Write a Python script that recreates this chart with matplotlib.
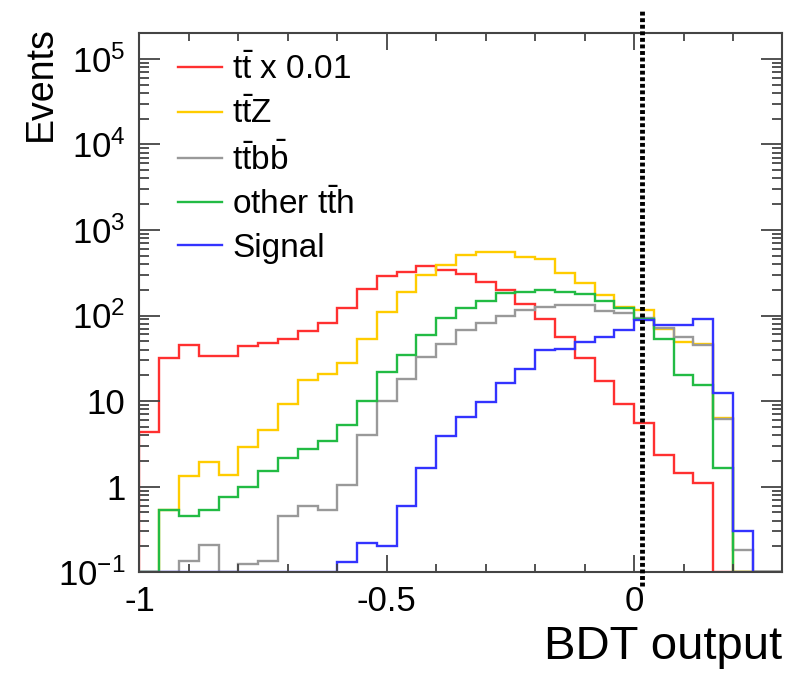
import numpy as np
import matplotlib
matplotlib.use("Agg")
import matplotlib.pyplot as plt
from matplotlib.lines import Line2D
from matplotlib.ticker import MultipleLocator, LogLocator, NullFormatter

plt.rcParams['font.family'] = ['Liberation Sans', 'DejaVu Sans']
plt.rcParams['mathtext.fontset'] = 'custom'
plt.rcParams['mathtext.rm'] = 'Liberation Sans'
plt.rcParams['mathtext.it'] = 'Liberation Sans:italic'

# 33 bins of width 0.04 starting at -1 (last one runs past the axis end)
bin_edges = np.linspace(-1.0, 0.32, 34)

ttbar = [4.3, 32, 45, 34, 34, 44, 48, 53, 66, 81, 121, 202, 287, 325, 383, 338,
         302, 245, 196, 136, 92, 56, 32, 17, 9.3, 5.6, 2.35, 1.45, 1.09, 0, 0, 0, 0]
ttz = [0, 0.53, 1.33, 1.95, 1.36, 2.9, 4.6, 9.2, 17.6, 20.5, 28, 53, 110, 190, 298, 390,
       510, 550, 550, 488, 453, 315, 237, 175, 127, 115, 70, 49, 47, 6.3, 0, 0, 0]
ttbb = [0, 0, 0.135, 0.21, 0, 0.125, 0.135, 0.45, 0.59, 0.53, 1.04, 4.0, 9.9, 18, 32.5, 46,
        68, 82, 99, 116, 125, 134, 133, 114, 108, 93, 71, 56, 45, 6.1, 0.18, 0, 0]
other_tth = [0, 0.53, 0.46, 0.54, 0.75, 0.98, 1.53, 2.14, 2.75, 3.45, 5.3, 10, 22, 34.5, 59, 93,
             121, 149, 182, 190, 199, 190, 180, 149, 121, 90, 53, 20, 15.4, 1.63, 0, 0, 0]
signal = [0, 0, 0, 0, 0, 0, 0, 0, 0, 0, 0.13, 0.22, 0.20, 0.60, 1.63, 3.9,
          6.5, 9.8, 16.4, 23.5, 39.5, 40.5, 49, 56, 68, 88, 77, 77, 91, 12.3, 0.30, 0, 0]

labels = [r'$\mathrm{t\bar{t}}$ x 0.01', r'$\mathrm{t\bar{t}Z}$', r'$\mathrm{t\bar{t}b\bar{b}}$',
          r'other $\mathrm{t\bar{t}h}$', 'Signal']
colors = ['#ff3030', '#ffcc00', '#999999', '#22bb44', '#3333ff']
bdt_cut = 0.015

YMIN, YMAX = 0.1, 2e5

fig = plt.figure(figsize=(7.88, 6.74), dpi=100)
ax = fig.add_axes([0.177, 0.151, 0.816, 0.80])

for vals, c in zip([ttbar, ttz, ttbb, other_tth, signal], colors):
    ax.stairs(np.maximum(vals, YMIN), bin_edges, baseline=YMIN, color=c, lw=1.7)

# cut line, sticks out of the frame a little
ax.plot([bdt_cut, bdt_cut], [-0.025, 1.04], transform=ax.get_xaxis_transform(),
        color='black', lw=3.5, ls=(0, (0.8, 0.55)), clip_on=False, zorder=5)

ax.set_yscale('log')
ax.set_xlim(-1, 0.3)
ax.set_ylim(YMIN, YMAX)

ax.set_xticks([-1, -0.5, 0])
ax.set_xticklabels(['-1', '-0.5', '0'])
ax.xaxis.set_minor_locator(MultipleLocator(0.1))
ax.set_yticks([0.1, 1, 10, 100, 1e3, 1e4, 1e5])
ax.set_yticklabels([r'$\mathrm{10^{-1}}$', '1', '10', r'$\mathrm{10^{2}}$',
                    r'$\mathrm{10^{3}}$', r'$\mathrm{10^{4}}$', r'$\mathrm{10^{5}}$'])
ax.yaxis.set_minor_locator(LogLocator(base=10, subs=np.arange(2, 10)))
ax.yaxis.set_minor_formatter(NullFormatter())

ax.tick_params(which='both', direction='in', top=True, right=True,
               color='#444444', width=1.3, labelsize=25)
ax.tick_params(axis='x', which='major', length=12, pad=9)
ax.tick_params(axis='x', which='minor', length=6)
ax.tick_params(axis='y', which='major', length=15, pad=10)
ax.tick_params(axis='y', which='minor', length=7.5)
for sp in ax.spines.values():
    sp.set_color('#444444')
    sp.set_linewidth(1.5)

ax.set_xlabel('BDT output', fontsize=34, loc='right')
ax.xaxis.set_label_coords(1.0, -0.097)
ax.set_ylabel('Events', fontsize=27, loc='top')
ax.yaxis.set_label_coords(-0.126, 1.012)

handles = [Line2D([], [], color=c, lw=1.7) for c in colors]
ax.legend(handles, labels, loc='upper left', bbox_to_anchor=(0.06, 0.962),
          frameon=False, fontsize=24, handlelength=1.32, handletextpad=0.3,
          labelspacing=0.36, borderpad=0, borderaxespad=0)

fig.savefig('out.png', dpi=100)
